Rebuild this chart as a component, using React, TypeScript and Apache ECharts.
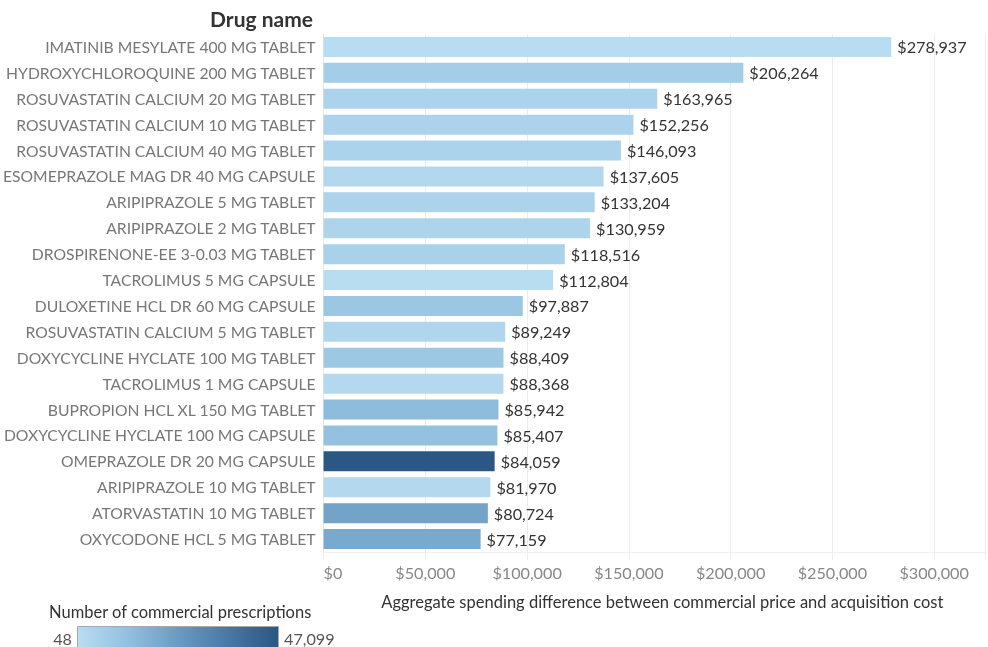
import React, { useEffect, useRef } from "react";
import * as echarts from "echarts";

const drugNames = [
  "IMATINIB MESYLATE 400 MG TABLET",
  "HYDROXYCHLOROQUINE 200 MG TABLET",
  "ROSUVASTATIN CALCIUM 20 MG TABLET",
  "ROSUVASTATIN CALCIUM 10 MG TABLET",
  "ROSUVASTATIN CALCIUM 40 MG TABLET",
  "ESOMEPRAZOLE MAG DR 40 MG CAPSULE",
  "ARIPIPRAZOLE 5 MG TABLET",
  "ARIPIPRAZOLE 2 MG TABLET",
  "DROSPIRENONE-EE 3-0.03 MG TABLET",
  "TACROLIMUS 5 MG CAPSULE",
  "DULOXETINE HCL DR 60 MG CAPSULE",
  "ROSUVASTATIN CALCIUM 5 MG TABLET",
  "DOXYCYCLINE HYCLATE 100 MG TABLET",
  "TACROLIMUS 1 MG CAPSULE",
  "BUPROPION HCL XL 150 MG TABLET",
  "DOXYCYCLINE HYCLATE 100 MG CAPSULE",
  "OMEPRAZOLE DR 20 MG CAPSULE",
  "ARIPIPRAZOLE 10 MG TABLET",
  "ATORVASTATIN 10 MG TABLET",
  "OXYCODONE HCL 5 MG TABLET",
];

const spending = [
  278937, 206264, 163965, 152256, 146093, 137605, 133204, 130959, 118516, 112804,
  97887, 89249, 88409, 88368, 85942, 85407, 84059, 81970, 80724, 77159,
];

const prescriptions = [
  300, 6500, 4200, 4000, 4200, 2000, 4000, 3500, 5000, 400,
  9000, 3000, 8500, 1500, 13000, 11500, 47099, 1500, 21000, 19000,
];

const xTicks = [0, 50000, 100000, 150000, 200000, 250000, 300000];
const rxMin = 48;
const rxMax = 47099;
const legendLabels = ["48", "47,099"];

const blueRamp = ["#b9ddf1", "#92c0df", "#6a9bc3", "#4878a6", "#2a5783"];

const FONT = "Lato, 'Noto Sans', sans-serif";

function fmtMoney(v: number) {
  return "$" + v.toLocaleString("en-US");
}

export default function App() {
  const ref = useRef<HTMLDivElement>(null);

  useEffect(() => {
    if (!ref.current) return;
    const chart = echarts.init(ref.current, undefined, { renderer: "svg" });
    const data = drugNames.map((n, i) => [spending[i], n, prescriptions[i]]);

    chart.setOption({
      animation: false,
      textStyle: { fontFamily: FONT },
      title: {
        text: "Drug name",
        right: 988 - 313,
        top: 8,
        padding: 0,
        textStyle: { fontFamily: FONT, fontSize: 21, fontWeight: "bold", color: "#333333" },
      },
      grid: { left: 322, right: 1, top: 34, bottom: 95, containLabel: false },
      xAxis: {
        type: "value",
        min: 0,
        max: 325000,
        interval: 50000,
        name: "Aggregate spending difference between commercial price and acquisition cost",
        nameLocation: "middle",
        nameGap: 41,
        nameTextStyle: { fontFamily: FONT, fontSize: 16.5, color: "#333333", padding: [0, 0, 0, 16] },
        axisLine: { show: true, lineStyle: { color: "#f0f0f0" } },
        axisTick: { show: true, length: 8, lineStyle: { color: "#ececec" } },
        splitLine: { show: true, lineStyle: { color: "#ececec" } },
        axisLabel: {
          margin: 12,
          alignMinLabel: "left",
          fontFamily: FONT,
          fontSize: 16.2,
          color: "#888888",
          formatter: (v: number) => (xTicks.indexOf(v) >= 0 ? fmtMoney(v) : ""),
        },
      },
      yAxis: {
        type: "category",
        inverse: true,
        data: drugNames,
        axisLine: { show: true, lineStyle: { color: "#e6e6e6" } },
        axisTick: { show: false },
        axisLabel: { margin: 8, fontFamily: FONT, fontSize: 15.7, color: "#777777" },
      },
      visualMap: {
        type: "continuous",
        show: false,
        min: rxMin,
        max: rxMax,
        dimension: 2,
        seriesIndex: 0,
        inRange: { color: blueRamp },
      },
      graphic: [
        {
          type: "text",
          left: 49,
          top: 603,
          style: {
            text: "Number of commercial prescriptions",
            fontFamily: FONT,
            fontSize: 16.5,
            fill: "#333333",
          },
        },
        {
          type: "rect",
          left: 77,
          top: 626,
          shape: { width: 201, height: 24 },
          style: {
            fill: {
              type: "linear",
              x: 0,
              y: 0,
              x2: 1,
              y2: 0,
              colorStops: blueRamp.map((c, i) => ({ offset: i / (blueRamp.length - 1), color: c })),
            },
            stroke: "#a8a8a8",
            lineWidth: 1,
          },
        },
        {
          type: "text",
          right: 988 - 72,
          top: 630,
          style: { text: legendLabels[0], fontFamily: FONT, fontSize: 16.2, fill: "#555555" },
        },
        {
          type: "text",
          left: 284,
          top: 630,
          style: { text: legendLabels[1], fontFamily: FONT, fontSize: 16.2, fill: "#555555" },
        },
      ],
      series: [
        {
          type: "bar",
          data,
          encode: { x: 0, y: 1 },
          barWidth: 20,
          label: {
            show: true,
            position: "right",
            distance: 6,
            fontFamily: FONT,
            fontSize: 16.2,
            color: "#333333",
            formatter: (p: any) => fmtMoney(p.value[0]),
          },
        },
      ],
    });

    return () => chart.dispose();
  }, []);

  return (
    <div
      ref={ref}
      style={{ position: "fixed", left: 0, top: 0, width: 988, height: 647 }}
    />
  );
}
